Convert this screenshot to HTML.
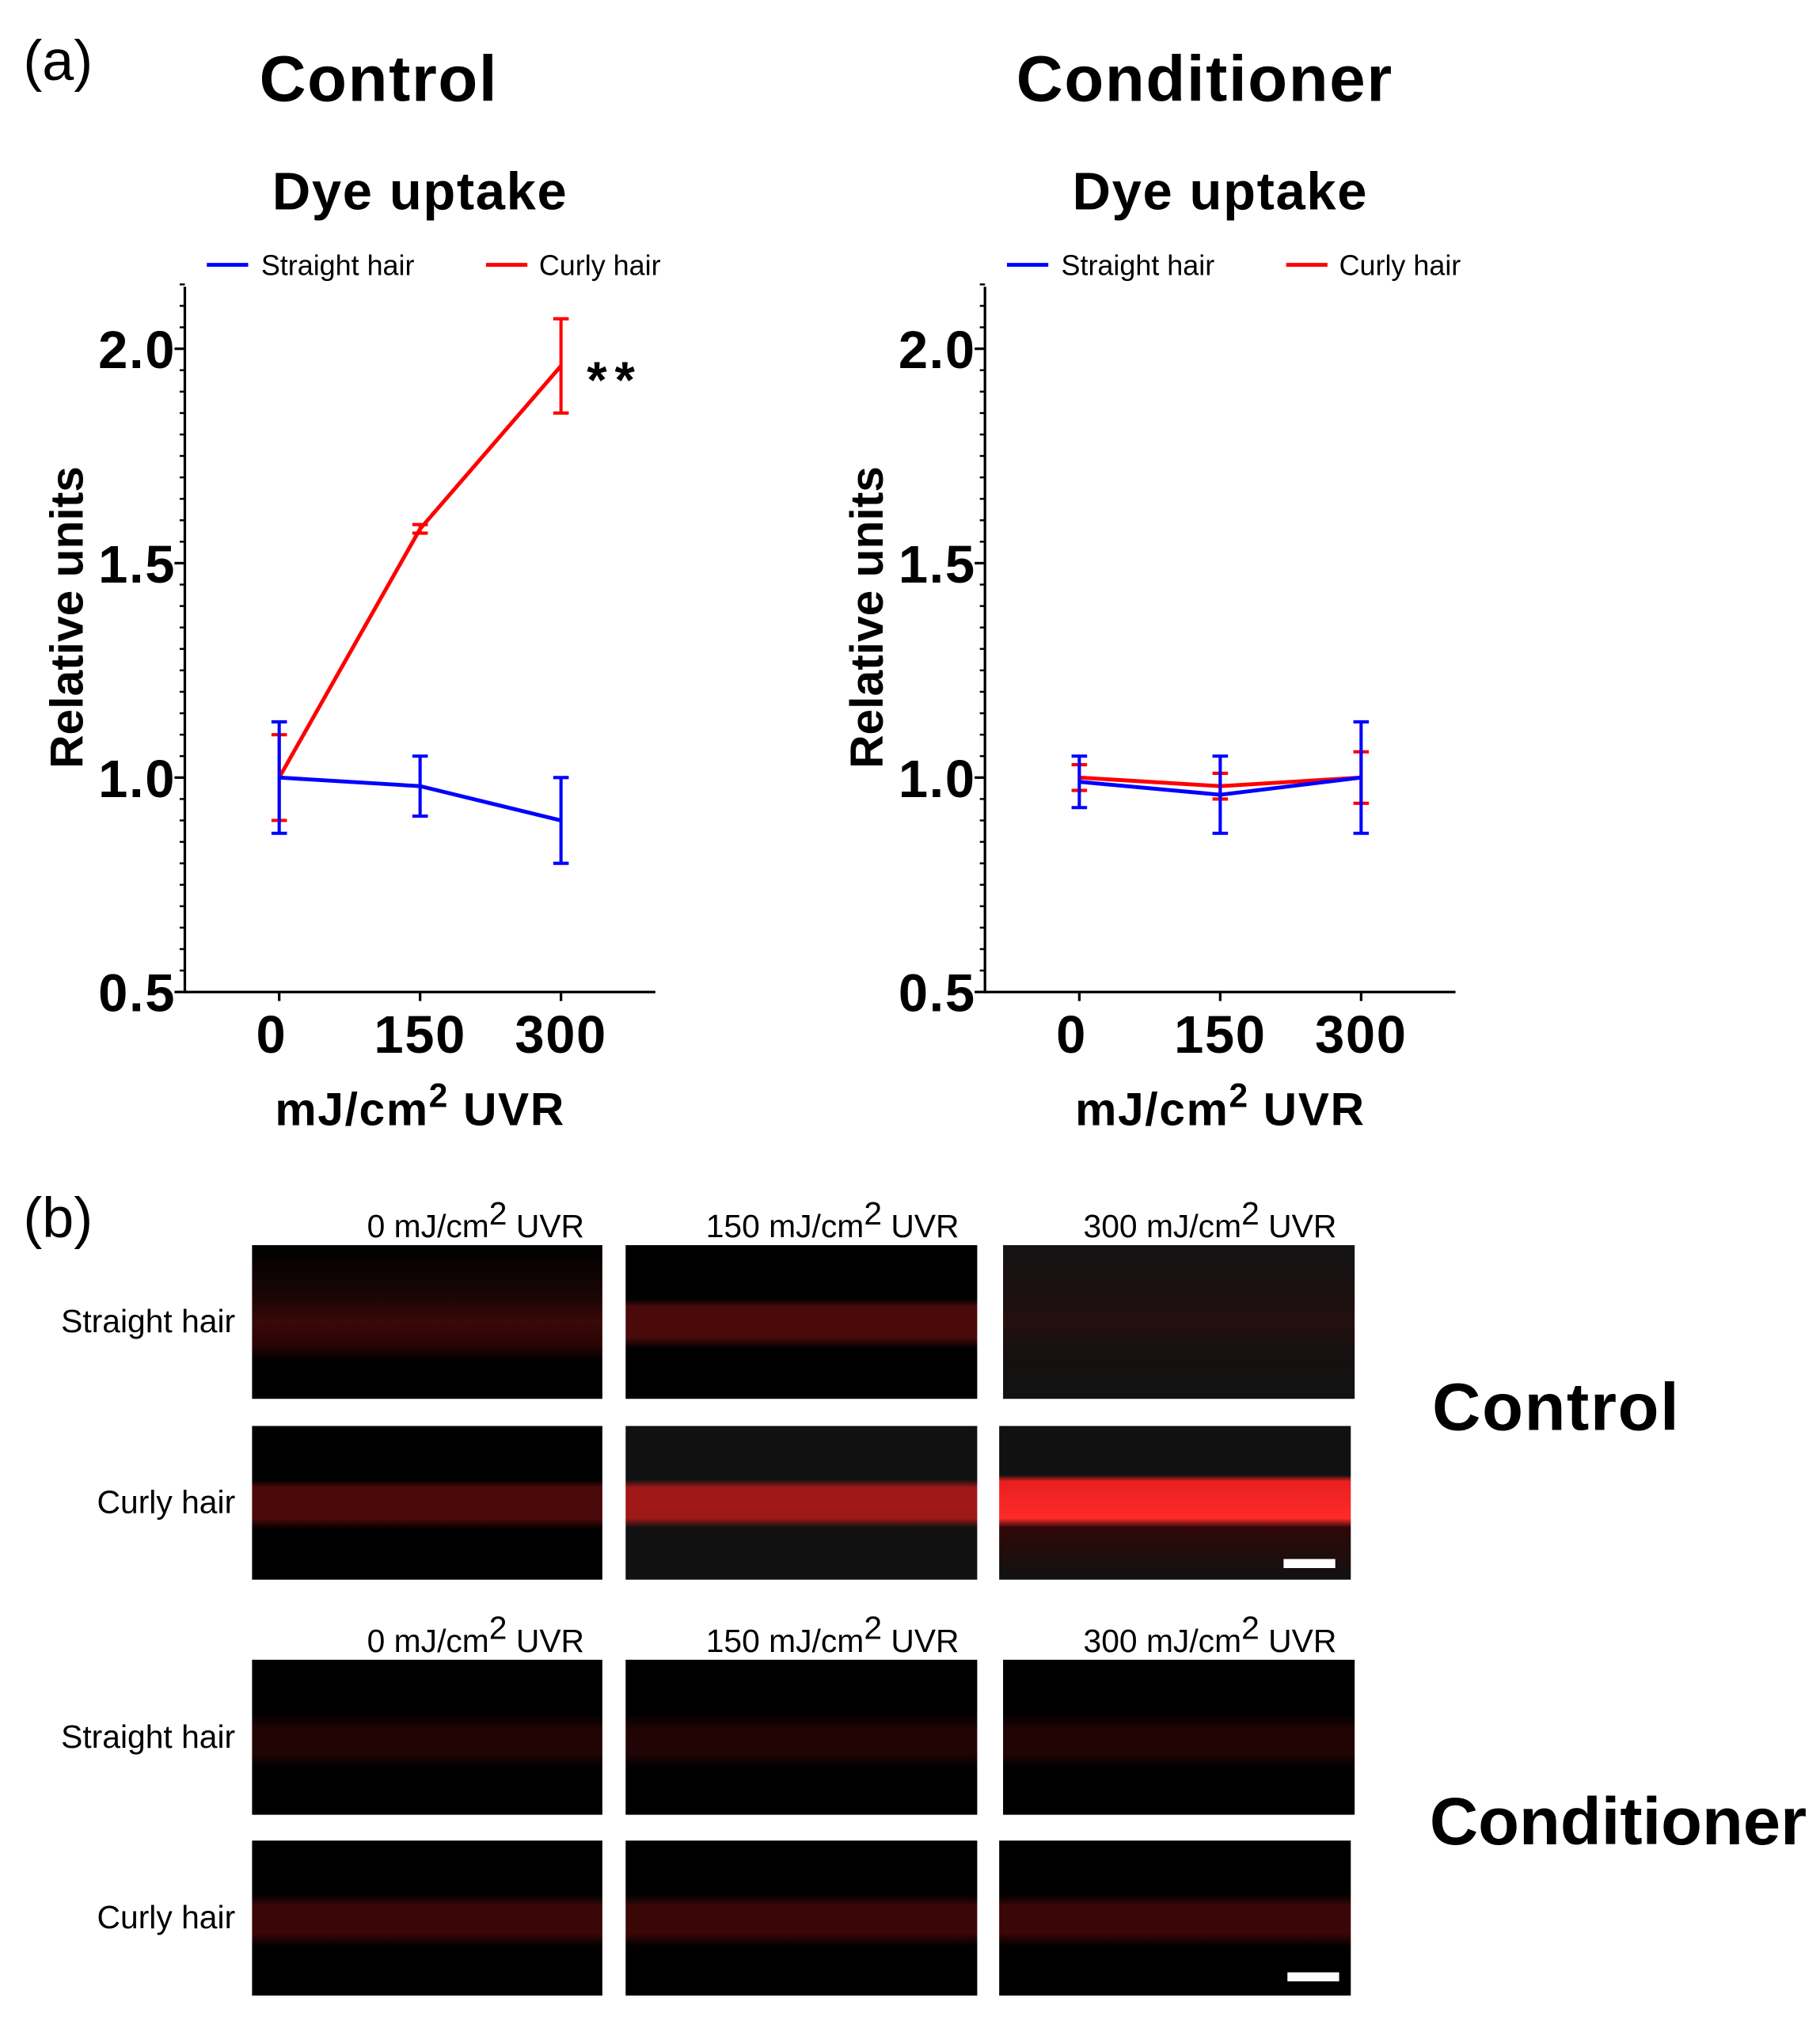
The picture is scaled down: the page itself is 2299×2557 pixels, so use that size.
<!DOCTYPE html>
<html><head><meta charset="utf-8"><style>
html,body{margin:0;padding:0;background:#fff;}
svg{display:block;}
text{font-family:"Liberation Sans",Arial,sans-serif;}
.b{font-weight:bold;}
.c{font-family:"Liberation Sans Narrow","Liberation Sans",sans-serif;}
</style></head><body>
<svg id="fig" width="2299" height="2557" viewBox="0 0 1408 1567" preserveAspectRatio="none" xmlns="http://www.w3.org/2000/svg">
<defs>
<linearGradient id="g1" x1="0" y1="0" x2="0" y2="1"><stop offset="0" stop-color="#000"/><stop offset="0.33" stop-color="#1a0505"/><stop offset="0.5" stop-color="#3a0808"/><stop offset="0.65" stop-color="#2a0505"/><stop offset="0.75" stop-color="#000"/><stop offset="1" stop-color="#000"/></linearGradient>
<linearGradient id="g1c" x1="0" y1="0" x2="0" y2="1"><stop offset="0" stop-color="#141414"/><stop offset="0.35" stop-color="#1c1010"/><stop offset="0.5" stop-color="#241010"/><stop offset="0.7" stop-color="#161010"/><stop offset="1" stop-color="#121212"/></linearGradient>
<linearGradient id="g2a" x1="0" y1="0" x2="0" y2="1"><stop offset="0" stop-color="#000"/><stop offset="0.35" stop-color="#000"/><stop offset="0.4" stop-color="#4a0a0a"/><stop offset="0.6" stop-color="#4a0a0a"/><stop offset="0.67" stop-color="#000"/><stop offset="1" stop-color="#000"/></linearGradient>
<linearGradient id="g2b" x1="0" y1="0" x2="0" y2="1"><stop offset="0" stop-color="#111"/><stop offset="0.35" stop-color="#111"/><stop offset="0.4" stop-color="#a01818"/><stop offset="0.6" stop-color="#a01818"/><stop offset="0.66" stop-color="#111"/><stop offset="1" stop-color="#111"/></linearGradient>
<linearGradient id="g2c" x1="0" y1="0" x2="0" y2="1"><stop offset="0" stop-color="#111"/><stop offset="0.32" stop-color="#111"/><stop offset="0.36" stop-color="#e82020"/><stop offset="0.6" stop-color="#ff2a2a"/><stop offset="0.66" stop-color="#300808"/><stop offset="1" stop-color="#111"/></linearGradient>
<linearGradient id="g3" x1="0" y1="0" x2="0" y2="1"><stop offset="0" stop-color="#000"/><stop offset="0.35" stop-color="#000"/><stop offset="0.45" stop-color="#220404"/><stop offset="0.6" stop-color="#220404"/><stop offset="0.7" stop-color="#000"/><stop offset="1" stop-color="#000"/></linearGradient>
<linearGradient id="g4" x1="0" y1="0" x2="0" y2="1"><stop offset="0" stop-color="#000"/><stop offset="0.35" stop-color="#000"/><stop offset="0.42" stop-color="#3a0606"/><stop offset="0.6" stop-color="#3a0606"/><stop offset="0.68" stop-color="#000"/><stop offset="1" stop-color="#000"/></linearGradient>
</defs>
<text x="18" y="62" font-size="44">(a)</text>
<text x="18" y="958" font-size="44">(b)</text>
<g id="charts"></g>
<g id="images"></g>
</svg>
<script>
const categories = [0, 150, 300];
const tickLabels = ["0.5", "1.0", "1.5", "2.0"];
const tickValues = [0.5, 1.0, 1.5, 2.0];
const ctrlStraight = [1.0, 0.98, 0.90];
const ctrlStraightErr = [0.13, 0.07, 0.10];
const ctrlCurly = [1.0, 1.58, 1.96];
const ctrlCurlyErr = [0.10, 0.01, 0.11];
const condStraight = [0.99, 0.96, 1.0];
const condStraightErr = [0.06, 0.09, 0.13];
const condCurly = [1.0, 0.98, 1.0];
const condCurlyErr = [0.03, 0.03, 0.06];
const NS = "http://www.w3.org/2000/svg";
function mk(parent, tag, attrs, txt){const e=document.createElementNS(NS,tag);for(const k in attrs)e.setAttribute(k,attrs[k]);if(txt!==undefined)e.textContent=txt;parent.appendChild(e);return e;}
const charts=document.getElementById('charts');
function chart(ox, title, titleX, sets, prefix){
  const g=mk(charts,'g',{});
  
  
  const axX=ox, axR=ox+364, yTop=222;
  const y=v=>602-(v-1.0)*332;
  const x=c=>ox+73+c*(218/300);
  const t1=mk(g,'text',{x:titleX,y:78,'font-size':50,'class':'b','text-anchor':'middle','letter-spacing':1},title);
  
  
  const t2=mk(g,'text',{x:ox+182,y:162,'font-size':41,'class':'b','text-anchor':'middle','letter-spacing':1},'Dye uptake');
  
  
  const l1=mk(g,'g',{});
  
  
  mk(l1,'line',{x1:ox+17,x2:ox+49,y1:205,y2:205,stroke:'#0000ff','stroke-width':3});
  mk(l1,'text',{x:ox+59,y:213,'font-size':22},'Straight hair');
  const l2=mk(g,'g',{});
  
  
  mk(l2,'line',{x1:ox+233,x2:ox+265,y1:205,y2:205,stroke:'#ff0000','stroke-width':3});
  mk(l2,'text',{x:ox+274,y:213,'font-size':22},'Curly hair');
  const ya=mk(g,'line',{x1:axX,x2:axX,y1:yTop,y2:y(0.5)+1,stroke:'#000','stroke-width':2});
  
  
  const xa=mk(g,'line',{x1:axX-1,x2:axR,y1:y(0.5),y2:y(0.5),stroke:'#000','stroke-width':2});
  
  
  for(let i=0;i<=33;i++){const v=0.5+i*0.05;if(v>2.16)break;mk(g,'line',{x1:axX-4,x2:axX,y1:y(v),y2:y(v),stroke:'#000','stroke-width':1.5});}
  tickValues.forEach((v,i)=>{mk(g,'line',{x1:axX-8,x2:axX,y1:y(v),y2:y(v),stroke:'#000','stroke-width':2});
    const t=mk(g,'text',{x:axX-7,y:y(v)+15,'font-size':41,'class':'b','text-anchor':'end','letter-spacing':1},tickLabels[i]);
    
    });
  categories.forEach(c=>{mk(g,'line',{x1:x(c),x2:x(c),y1:y(0.5),y2:y(0.5)+7,stroke:'#000','stroke-width':2});
    const t=mk(g,'text',{x:x(c)-(c===0?6:0),y:815,'font-size':41,'class':'b','text-anchor':'middle','letter-spacing':1},String(c));
    
    });
  const xt=mk(g,'text',{x:ox+182,y:871,'font-size':36,'class':'b','text-anchor':'middle','letter-spacing':1});
  
  
  xt.innerHTML='mJ/cm<tspan dy="-14" font-size="26">2</tspan><tspan dy="14"> UVR</tspan>';
  const yt=mk(g,'text',{x:0,y:0,'font-size':36,'class':'b','text-anchor':'middle',transform:`translate(${ox-79},478) rotate(-90)`},'Relative units');
  
  
  sets.forEach(s=>{
    const pts=categories.map((c,i)=>x(c)+','+y(s.v[i])).join(' ');
    const pl=mk(g,'polyline',{points:pts,fill:'none',stroke:s.col,'stroke-width':3});
    
    
    categories.forEach((c,i)=>{
      const eg=mk(g,'g',{stroke:s.col,'stroke-width':2.5});
      
      
      const hi=y(s.v[i]+s.e[i]), lo=y(s.v[i]-s.e[i]);
      mk(eg,'line',{x1:x(c),x2:x(c),y1:hi,y2:lo});
      mk(eg,'line',{x1:x(c)-6,x2:x(c)+6,y1:hi,y2:hi});
      mk(eg,'line',{x1:x(c)-6,x2:x(c)+6,y1:lo,y2:lo});
    });
  });
  return {x,y,g};
}
const c1=chart(143,'Control',293,[{v:ctrlCurly,e:ctrlCurlyErr,col:'#ff0000',name:'ctrl-curly'},{v:ctrlStraight,e:ctrlStraightErr,col:'#0000ff',name:'ctrl-straight'}],'control');
const st=mk(c1.g,'text',{x:454,y:308,'font-size':40,'class':'b','letter-spacing':6},'**');


chart(762,'Conditioner',932,[{v:condCurly,e:condCurlyErr,col:'#ff0000',name:'cond-curly'},{v:condStraight,e:condStraightErr,col:'#0000ff',name:'cond-straight'}],'conditioner');

const imgs=document.getElementById('images');
const cols=[[195,466],[484,756],[776,1048]];
const rows=[[964,1083,['g1','g2a','g1c']],[1104,1223,['g2a','g2b','g2c']],[1285,1405,['g3','g3','g3']],[1425,1545,['g4','g4','g4']]];
const doses=['0','150','300'];
rows.forEach((r,ri)=>{
  cols.forEach((c,ci)=>{
    const xo=(ri===1||ri===3)&&ci===2?-3:0;
    const rc=mk(imgs,'rect',{x:c[0]+xo,y:r[0],width:c[1]-c[0],height:r[1]-r[0],fill:'url(#'+r[2][ci]+')'});
    
    
  });
  const lb=mk(imgs,'text',{x:182,y:(r[0]+r[1])/2+8,'font-size':25,'class':'c','text-anchor':'end'},ri%2?'Curly hair':'Straight hair');
  
  
});
[958,1279].forEach(yy=>{
  cols.forEach((c,ci)=>{
    const t=mk(imgs,'text',{x:c[1]-14,y:yy,'font-size':25,'class':'c','text-anchor':'end'});
    
    
    t.innerHTML=doses[ci]+' mJ/cm<tspan dy="-10" font-size="25">2</tspan><tspan dy="10"> UVR</tspan>';
  });
});
[[993,1210],[996,1530]].forEach(p=>{const s=mk(imgs,'rect',{x:p[0],y:p[1]-3,width:40,height:7,fill:'#fff'});
  
  });
const gc=mk(imgs,'text',{x:1108,y:1107,'font-size':52,'class':'b','letter-spacing':1},'Control');


const gd=mk(imgs,'text',{x:1106,y:1428,'font-size':52,'class':'b'},'Conditioner');


</script>
</body></html>
